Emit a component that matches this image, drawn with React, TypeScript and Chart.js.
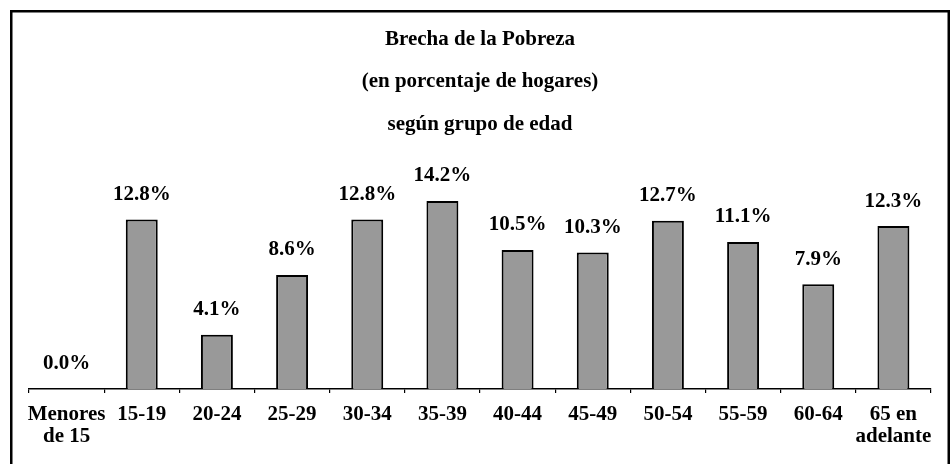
import React, { useEffect, useRef } from "react";
import { Chart, registerables } from "chart.js";

Chart.register(...registerables);

const categories: (string | string[])[] = [
  ["Menores", "de 15"],
  "15-19",
  "20-24",
  "25-29",
  "30-34",
  "35-39",
  "40-44",
  "45-49",
  "50-54",
  "55-59",
  "60-64",
  ["65 en", "adelante"],
];
const values: number[] = [0.0, 12.8, 4.1, 8.6, 12.8, 14.2, 10.5, 10.3, 12.7, 11.1, 7.9, 12.3];
const titleLines: string[] = [
  "Brecha de la Pobreza",
  "(en porcentaje de hogares)",
  "según grupo de edad",
];

const FONT = "'Liberation Serif', 'Times New Roman', serif";

const frame = {
  id: "frame",
  beforeDraw(chart: any) {
    const ctx = chart.ctx;
    ctx.save();
    ctx.fillStyle = "#ffffff";
    ctx.fillRect(0, 0, chart.width, chart.height);
    ctx.strokeStyle = "#000000";
    ctx.lineWidth = 2.5;
    ctx.strokeRect(11.25, 11.25, 937.5, 600);
    ctx.restore();
  },
};

const valueLabels = {
  id: "valueLabels",
  afterDatasetsDraw(chart: any) {
    const ctx = chart.ctx;
    const meta = chart.getDatasetMeta(0);
    ctx.save();
    ctx.font = `bold 21px ${FONT}`;
    ctx.fillStyle = "#000000";
    ctx.textAlign = "center";
    ctx.textBaseline = "middle";
    meta.data.forEach((el: any, i: number) => {
      const v = values[i];
      ctx.fillText(v.toFixed(1) + "%", el.x, el.y - 25);
    });
    ctx.restore();
  },
};

export default function App() {
  const ref = useRef<HTMLCanvasElement | null>(null);
  useEffect(() => {
    if (!ref.current) return;
    const chart = new Chart(ref.current, {
      type: "bar",
      data: {
        labels: categories,
        datasets: [
          {
            data: values,
            backgroundColor: "#999999",
            borderColor: "#000000",
            borderWidth: 2,
            borderSkipped: "bottom",
            categoryPercentage: 1,
            barPercentage: 0.425,
          },
        ],
      },
      options: {
        animation: false,
        responsive: false,
        devicePixelRatio: 1,
        layout: { padding: { left: 29, right: 20, top: 0, bottom: 5 } },
        plugins: {
          legend: { display: false },
          tooltip: { enabled: false },
          title: {
            display: true,
            text: titleLines,
            color: "#000000",
            font: { family: FONT, size: 21, weight: "bold", lineHeight: 2.0238 },
            padding: { top: 18, bottom: 25 },
          },
        },
        scales: {
          x: {
            grid: {
              display: true,
              drawOnChartArea: false,
              drawTicks: true,
              tickLength: 4,
              color: "#000000",
              lineWidth: 1.2,
              offset: true,
            },
            border: { display: true, color: "#000000", width: 1.5 },
            ticks: {
              color: "#000000",
              font: { family: FONT, size: 21, weight: "bold", lineHeight: 1.05 },
              padding: 11,
              maxRotation: 0,
              autoSkip: false,
            },
          },
          y: {
            display: false,
            min: 0,
            max: 16.5,
          },
        },
      },
      plugins: [frame, valueLabels],
    });
    return () => chart.destroy();
  }, []);
  return (
    <div style={{ position: "fixed", left: 0, top: 0, width: 951, height: 464, background: "#fff" }}>
      <canvas ref={ref} width={951} height={464} style={{ display: "block" }} />
    </div>
  );
}
